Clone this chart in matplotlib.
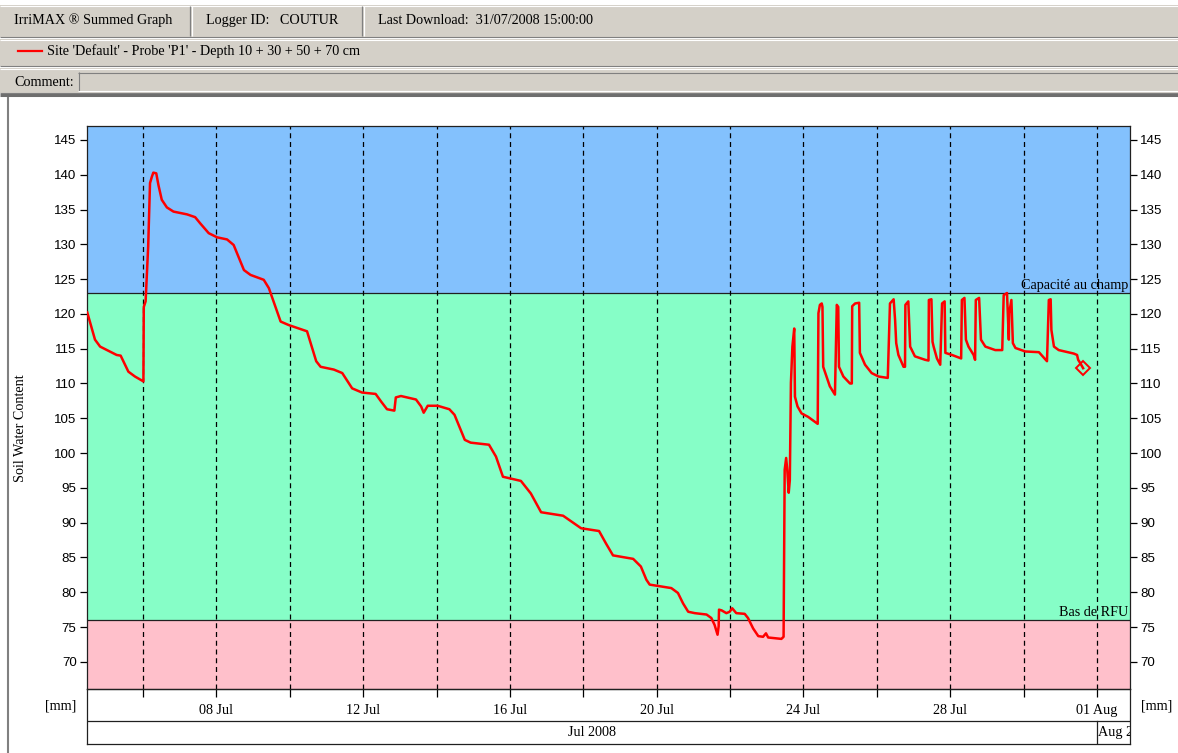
import numpy as np
import pandas as pd
import matplotlib
matplotlib.use('Agg')
import matplotlib.pyplot as plt
import matplotlib.dates as mdates
from matplotlib.patches import Rectangle

# ---------------- data ----------------
day_of_july = [4.48, 4.69, 4.83, 5.28, 5.39, 5.60, 5.78, 6.01, 6.02, 6.07,
               6.14, 6.16, 6.19, 6.24, 6.28, 6.36, 6.42, 6.51, 6.65, 6.83,
               7.20, 7.42, 7.56, 7.79, 8.02, 8.29, 8.47, 8.75, 8.93, 9.29,
               9.43, 9.75, 9.97, 10.47, 10.72, 10.84, 11.20, 11.43, 11.70, 11.97,
               12.34, 12.49, 12.65, 12.85, 12.89, 13.03, 13.44, 13.58, 13.65, 13.76,
               14.03, 14.35, 14.49, 14.77, 14.93, 15.43, 15.62, 15.81, 16.30, 16.57,
               16.85, 17.45, 17.72, 17.94, 18.43, 18.62, 18.81, 19.36, 19.57, 19.72,
               19.81, 20.04, 20.40, 20.58, 20.72, 20.86, 21.04, 21.36, 21.49, 21.58,
               21.66, 21.69, 21.70, 21.77, 21.90, 21.99, 22.06, 22.17, 22.40, 22.49,
               22.63, 22.77, 22.90, 22.98, 23.04, 23.22, 23.40, 23.46, 23.49, 23.53,
               23.56, 23.60, 23.63, 23.66, 23.70, 23.75, 23.77, 23.84, 23.95, 24.13,
               24.39, 24.41, 24.45, 24.50, 24.52, 24.54, 24.63, 24.72, 24.86, 24.91,
               24.95, 24.97, 25.09, 25.27, 25.32, 25.33, 25.41, 25.52, 25.54, 25.68,
               25.86, 26.05, 26.30, 26.36, 26.46, 26.50, 26.53, 26.59, 26.73, 26.77,
               26.78, 26.86, 26.91, 27.04, 27.32, 27.41, 27.42, 27.49, 27.52, 27.55,
               27.64, 27.73, 27.78, 27.85, 27.87, 28.05, 28.30, 28.32, 28.39, 28.43,
               28.50, 28.64, 28.68, 28.70, 28.79, 28.84, 28.96, 29.23, 29.42, 29.46,
               29.55, 29.60, 29.61, 29.67, 29.71, 29.78, 30.05, 30.42, 30.64, 30.69,
               30.74, 30.76, 30.83, 30.96, 31.37, 31.46, 31.49, 31.55, 31.625]
soil_water = [120.2, 116.3, 115.3, 114.1, 114.0, 111.7, 111.0, 110.3, 121.0, 121.8,
              129.7, 133.5, 138.8, 139.7, 140.3, 140.2, 138.5, 136.4, 135.3, 134.7,
              134.3, 133.9, 133.0, 131.6, 131.0, 130.7, 129.9, 126.3, 125.6, 124.9,
              123.7, 118.9, 118.4, 117.5, 113.2, 112.4, 112.0, 111.5, 109.3, 108.7,
              108.5, 107.4, 106.3, 106.1, 108.0, 108.2, 107.7, 106.7, 105.8, 106.8,
              106.8, 106.3, 105.5, 101.9, 101.5, 101.2, 99.5, 96.6, 96.0, 94.2,
              91.5, 91.0, 90.0, 89.2, 88.8, 87.0, 85.3, 84.8, 83.7, 81.8,
              81.1, 80.9, 80.6, 79.9, 78.4, 77.2, 77.0, 76.8, 76.3, 75.3,
              73.9, 75.1, 77.5, 77.4, 77.0, 77.2, 77.7, 77.0, 76.9, 76.3,
              74.8, 73.7, 73.6, 74.1, 73.5, 73.4, 73.3, 73.6, 97.6, 99.3,
              97.6, 94.3, 96.1, 110.1, 115.3, 117.9, 108.1, 106.7, 105.7, 105.2,
              104.2, 120.1, 121.3, 121.5, 121.0, 112.4, 111.0, 109.6, 108.4, 121.3,
              121.0, 112.4, 111.0, 110.0, 110.0, 121.1, 121.5, 121.6, 114.4, 112.7,
              111.5, 111.0, 110.8, 121.5, 122.1, 119.1, 115.8, 114.1, 112.4, 112.4,
              121.3, 121.8, 115.3, 113.9, 113.4, 113.3, 122.0, 122.1, 116.0, 115.3,
              113.6, 112.7, 121.5, 121.8, 114.4, 114.1, 113.6, 122.0, 122.3, 116.3,
              115.3, 114.1, 113.4, 122.0, 122.3, 116.3, 115.3, 114.8, 114.8, 122.7,
              123.0, 116.3, 120.1, 122.0, 115.8, 115.1, 114.6, 114.5, 113.2, 122.0,
              122.1, 117.7, 115.3, 114.8, 114.3, 114.1, 113.4, 112.9, 112.2]

field_capacity = 123.0
refill_point = 76.0
field_capacity_label = "Capacité au champ"
refill_label = "Bas de RFU"
y_ticks = [70, 75, 80, 85, 90, 95, 100, 105, 110, 115, 120, 125, 130, 135, 140, 145]
y_limits = [66.1, 147.0]
x_limits = ['2008-07-04 11:20', '2008-08-01 21:40']
x_major_ticks = ['2008-07-08', '2008-07-12', '2008-07-16', '2008-07-20',
                 '2008-07-24', '2008-07-28', '2008-08-01']
x_major_labels = ['08 Jul', '12 Jul', '16 Jul', '20 Jul', '24 Jul', '28 Jul', '01 Aug']
x_minor_ticks = ['2008-07-06', '2008-07-10', '2008-07-14', '2008-07-18',
                 '2008-07-22', '2008-07-26', '2008-07-30']
month_starts = ['2008-07-01', '2008-08-01']
month_labels = ['Jul 2008', 'Aug 2008']
header_tabs = ['IrriMAX ® Summed Graph', 'Logger ID:   COUTUR',
               'Last Download:  31/07/2008 15:00:00']
legend_label = "Site 'Default' - Probe 'P1' - Depth 10 + 30 + 50 + 70 cm"
y_label = 'Soil Water Content'
unit_label = '[mm]'

# ---------------- figure ----------------
W, H = 1178, 753
SERIF = 'Liberation Serif'
SANS = 'Liberation Sans'
GRAY = '#D4D0C8'
DARK = '#808080'
FS = 10.2

fig = plt.figure(figsize=(W / 100, H / 100), dpi=100)
fig.patch.set_facecolor('white')

bg = fig.add_axes([0, 0, 1, 1])
bg.set_xlim(0, W)
bg.set_ylim(H, 0)
bg.axis('off')
bg.set_zorder(-5)

def hline(y, x0, x1, c, lw=1.0):
    bg.plot([x0, x1], [y, y], color=c, lw=lw, solid_capstyle='butt')

def vline(x, y0, y1, c, lw=1.0):
    bg.plot([x, x], [y0, y1], color=c, lw=lw, solid_capstyle='butt')

# header rows
for (y0, y1) in [(5, 37), (39, 66), (68, 93)]:
    bg.add_patch(Rectangle((0, y0), W, y1 - y0, facecolor=GRAY, edgecolor='none'))
    hline(y0 + 0.5, 0, W, 'white', 0.8)
    hline(y1 - 0.5, 0, W, DARK, 0.8)
# tab separators
for xs in [190, 362]:
    vline(xs, 6, 36, DARK, 0.9)
    vline(xs + 1.5, 6, 36, 'white', 0.9)
# comment box
bg.add_patch(Rectangle((78, 72), W - 78, 19, facecolor=GRAY, edgecolor='none'))
hline(72.5, 78, W, DARK, 0.8)
vline(78.5, 72, 91, DARK, 0.8)
hline(90.5, 78, W, 'white', 0.8)
# dark separator under header
hline(95, 0, W, '#6E6E6E', 2.2)
# left border of chart panel
vline(8, 97, H, DARK, 1.5)

tab_x = [14, 206, 378]
for tx, label in zip(tab_x, header_tabs):
    bg.text(tx, 20, label, fontsize=FS, family=SERIF, va='center', ha='left')
bg.plot([18, 42], [51, 51], color='red', lw=1.6)
bg.text(47, 51, legend_label, fontsize=FS, family=SERIF, va='center', ha='left')
bg.text(14, 82, 'Comment:', fontsize=FS, family=SERIF, va='center', ha='left')

# ---------------- main axes ----------------
L, R, T, B = 87, 1130, 126, 689
ax = fig.add_axes([L / W, 1 - B / H, (R - L) / W, (B - T) / H])

x_dates = pd.Timestamp('2008-07-01') + pd.to_timedelta(np.array(day_of_july) - 1.0, unit='D')
xl = [pd.Timestamp(v) for v in x_limits]

ax.axhspan(y_limits[0], refill_point, facecolor='#FFC0CB', edgecolor='none', zorder=0)
ax.axhspan(refill_point, field_capacity, facecolor='#86FEC7', edgecolor='none', zorder=0)
ax.axhspan(field_capacity, y_limits[1], facecolor='#83C1FD', edgecolor='none', zorder=0)
ax.axhline(refill_point, color='#202020', lw=0.9, zorder=1.2)
ax.axhline(field_capacity, color='#202020', lw=0.9, zorder=1.2)

ax.plot(x_dates, soil_water, color='red', lw=1.8, zorder=3,
        solid_joinstyle='round')
ax.plot(x_dates[-1:], soil_water[-1:], marker='D', ms=7, mfc='none', mec='red',
        mew=1.4, ls='none', zorder=3)

ax.set_xlim(xl[0], xl[1])
ax.set_ylim(*y_limits)

ax.set_xticks([pd.Timestamp(t) for t in x_major_ticks])
ax.set_xticklabels(x_major_labels, fontsize=FS, family=SERIF)
ax.set_xticks([pd.Timestamp(t) for t in x_minor_ticks], minor=True)
ax.grid(axis='x', which='both', color='black', lw=0.9, linestyle=(0, (4, 3)))
ax.tick_params(axis='x', which='both', direction='out', length=5.5, width=0.9,
               color='black', pad=5)

ax.set_yticks(y_ticks)
ax.set_yticklabels([str(v) for v in y_ticks], fontsize=9.6, family=SANS)
ax.tick_params(axis='y', which='both', left=True, right=True, labelleft=True,
               labelright=True, direction='out', length=5, width=0.9, pad=2.5)
for sp in ax.spines.values():
    sp.set_color('#202020')
    sp.set_linewidth(0.9)

ax.set_ylabel(y_label, fontsize=FS, family=SERIF)
ax.yaxis.set_label_coords((27 - L) / (R - L), (B - 428) / (B - T))

trans = ax.get_yaxis_transform()
ax.text(0.998, field_capacity + 0.15, field_capacity_label, transform=trans,
        ha='right', va='bottom', fontsize=FS, family=SERIF, zorder=4)
ax.text(0.998, refill_point + 0.15, refill_label, transform=trans,
        ha='right', va='bottom', fontsize=FS, family=SERIF, zorder=4)

# unit labels
fig.text(61 / W, 1 - 706 / H, unit_label, fontsize=FS, family=SERIF, ha='center', va='center')
fig.text(1157 / W, 1 - 706 / H, unit_label, fontsize=FS, family=SERIF, ha='center', va='center')

# ---------------- label box below axes ----------------
B2 = 744
MID = 721
lb = fig.add_axes([L / W, 1 - B2 / H, (R - L) / W, (B2 - B) / H])
lb.set_xlim(xl[0], xl[1])
lb.set_ylim(0, 1)
lb.patch.set_facecolor('none')
lb.set_xticks([])
lb.set_yticks([])
for sp in lb.spines.values():
    sp.set_color('#202020')
    sp.set_linewidth(0.9)
ymid = (B2 - MID) / (B2 - B)
lb.axhline(ymid, color='#202020', lw=0.9)
m0 = pd.Timestamp(month_starts[0])
m1 = pd.Timestamp(month_starts[1])
lb.plot([m1, m1], [0, ymid], color='#202020', lw=0.9)
jul_center = xl[0] + (m1 - xl[0]) / 2
lb.text(jul_center, ymid / 2, month_labels[0], ha='center', va='center',
        fontsize=FS, family=SERIF)
lb.text(m1 + pd.Timedelta(hours=1), ymid / 2, month_labels[1], ha='left',
        va='center', fontsize=FS, family=SERIF, clip_on=True)

fig.savefig('out.png', dpi=100)
